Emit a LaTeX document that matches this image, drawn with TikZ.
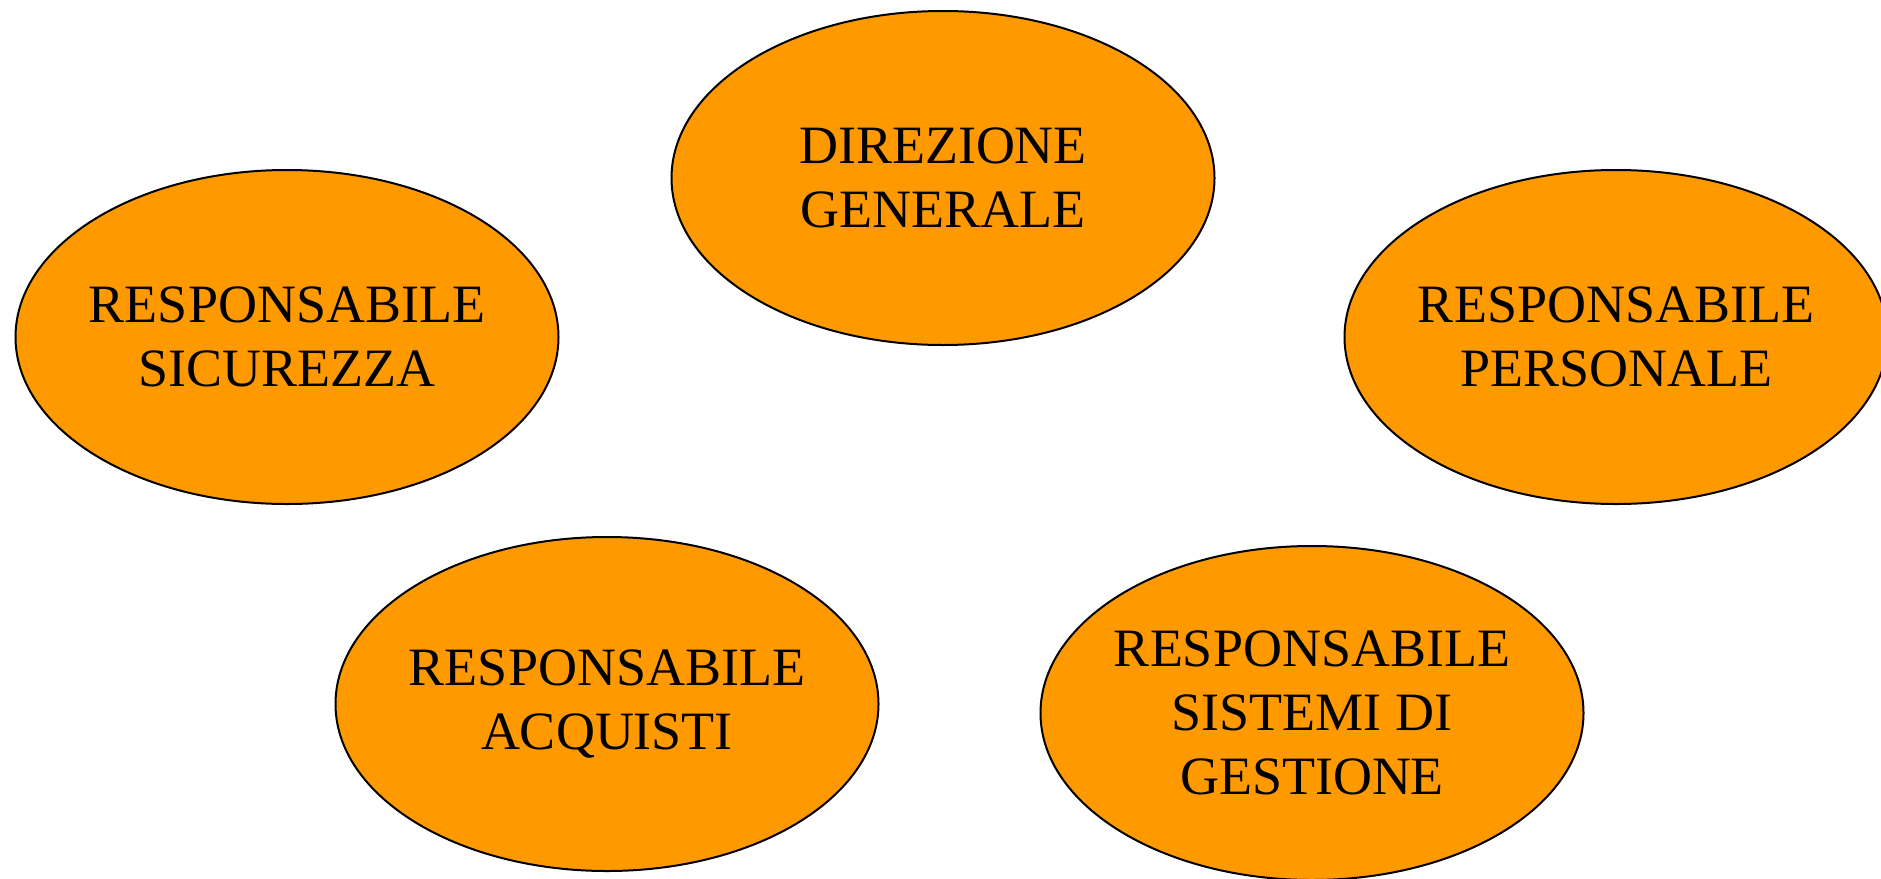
\documentclass[tikz,border=0pt]{standalone}
\usepackage{fontspec}
\setmainfont{Liberation Serif}
\usetikzlibrary{shapes.geometric}
\definecolor{boxorange}{HTML}{FF9900}
\begin{document}
\begin{tikzpicture}[x=1pt,y=-1pt,
  role/.style={ellipse, draw=black, line width=2pt, fill=boxorange,
    minimum width=543pt, minimum height=334pt, inner xsep=-80pt, inner ysep=0pt,
    align=center, font=\fontsize{54}{64}\selectfont}]
\useasboundingbox (0,0) rectangle (1881,878);
\clip (0,0) rectangle (1881,878);
\node[role] (dg) at (943,178) {DIREZIONE\\GENERALE};
\node[role] (sic) at (287,337) {RESPONSABILE\\SICUREZZA};
\node[role] (pers) at (1616,337) {RESPONSABILE\\PERSONALE};
\node[role] (acq) at (607,704) {RESPONSABILE\\ACQUISTI};
\node[role] (sist) at (1312,713) {RESPONSABILE\\SISTEMI DI\\GESTIONE};
\end{tikzpicture}
\end{document}
